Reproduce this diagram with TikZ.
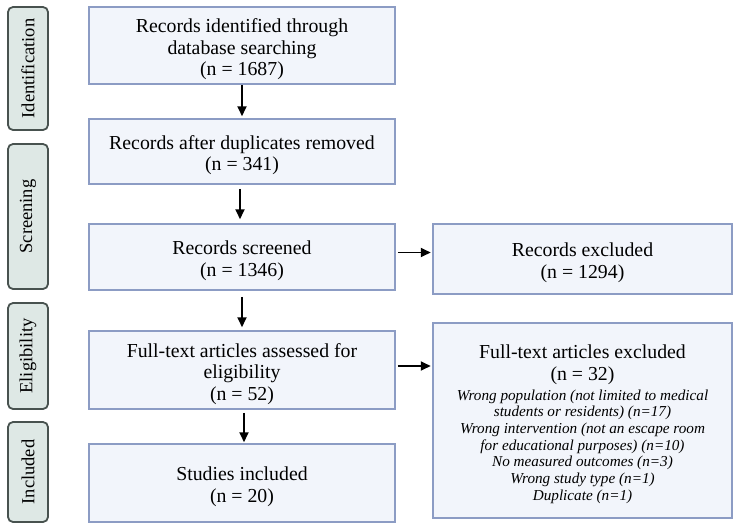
\documentclass[tikz,border=0pt]{standalone}
\usepackage{fontspec}
\setmainfont{Liberation Serif}
\usetikzlibrary{arrows.meta}
\definecolor{boxfill}{HTML}{F2F5FB}
\definecolor{boxline}{HTML}{8C9CC4}
\definecolor{sidefill}{HTML}{DEE8E5}
\definecolor{sideline}{HTML}{48524F}
\newcommand\mytopstrut{\rule{0pt}{21.5pt}}
\tikzset{
  mainbox/.style={draw=boxline, fill=boxfill, line width=1.5pt, align=center,
    font=\fontsize{19.8}{21.5}\selectfont, inner sep=0pt},
  sidebox/.style={draw=sideline, fill=sidefill, line width=1.8pt, rounded corners=5pt,
    minimum height=40pt, rotate=90, font=\fontsize{18.5}{20}\selectfont, inner sep=0pt},
  arr/.style={-{Triangle[length=10pt,width=9pt]}, line width=1.8pt, black},
}
\begin{document}
\begin{tikzpicture}[x=1pt,y=-1pt]
\useasboundingbox (0,0) rectangle (740,530);
% side labels
\node[sidebox, minimum width=123pt] (sid) at (28,68.5) {Identification};
\node[sidebox, minimum width=145pt] (ssc) at (28,216.5) {Screening};
\node[sidebox, minimum width=106pt] (sel) at (28,356) {Eligibility};
\node[sidebox, minimum width=100pt] (sin) at (28,472) {Included};
% main boxes
\node[mainbox, minimum width=306pt, minimum height=77pt] (b1) at (242,45.5)
  {\mytopstrut Records identified through\\database searching\\(n = 1687)};
\node[mainbox, minimum width=306pt, minimum height=65pt] (b2) at (242,151.5)
  {\mytopstrut Records after duplicates removed\\(n = 341)};
\node[mainbox, minimum width=306pt, minimum height=66pt] (b3) at (242,257)
  {\mytopstrut Records screened\\(n = 1346)};
\node[mainbox, minimum width=306pt, minimum height=78pt] (b4) at (242,370)
  {\mytopstrut Full-text articles assessed for\\eligibility\\(n = 52)};
\node[mainbox, minimum width=306pt, minimum height=78pt] (b5) at (242,483)
  {\mytopstrut Studies included\\(n = 20)};
\node[mainbox, minimum width=299pt, minimum height=70pt] (e1) at (582.5,259)
  {\mytopstrut Records excluded\\(n = 1294)};
\node[mainbox, minimum width=299pt, minimum height=195pt] (e2) at (582.5,420.5)
  {\begin{minipage}{292pt}\centering
   \fontsize{19.8}{21.5}\selectfont\mytopstrut Full-text articles excluded\\(n = 32)\par
   \vspace{3pt}
   \fontsize{15.2}{16.7}\selectfont\itshape
   Wrong population (not limited to medical\\students or residents) (n=17)\\
   Wrong intervention (not an escape room\\for educational purposes) (n=10)\\
   No measured outcomes (n=3)\\Wrong study type (n=1)\\Duplicate (n=1)\par
   \end{minipage}};
% arrows
\draw[arr, shorten >=2pt] (b1.south -| 242,0) -- (b2.north -| 242,0);
\draw[arr, shorten <=4pt, shorten >=4pt] (b2.south -| 240,0) -- (b3.north -| 240,0);
\draw[arr, shorten <=6pt, shorten >=3pt] (b3.south -| 242,0) -- (b4.north -| 242,0);
\draw[arr, shorten <=3pt, shorten >=1pt] (b4.south -| 244,0) -- (b5.north -| 244,0);
\draw[arr, shorten <=2pt, shorten >=1.5pt] ([yshift=4.5pt]b3.east) -- ([yshift=4.5pt]b3.east -| e1.west);
\draw[arr, shorten <=2pt, shorten >=1.5pt] ([yshift=4pt]b4.east) -- ([yshift=4pt]b4.east -| e2.west);
\end{tikzpicture}
\end{document}
